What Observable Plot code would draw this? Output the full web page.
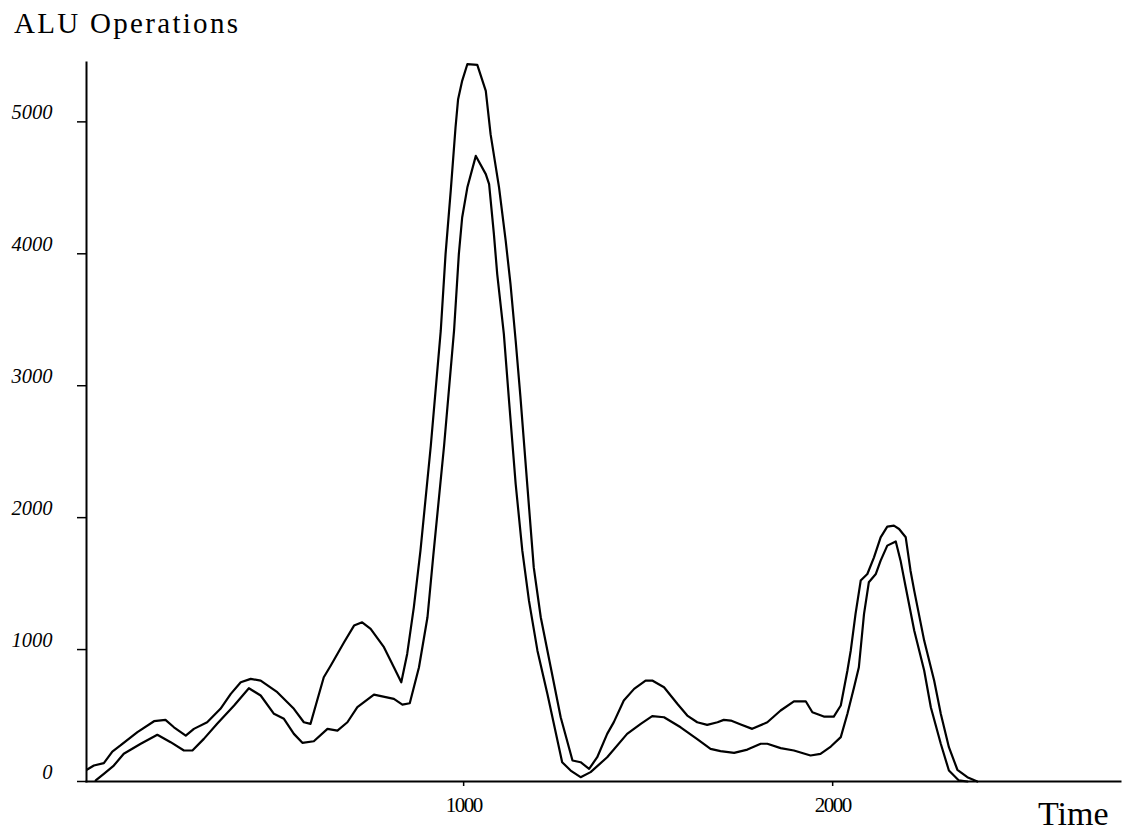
<!DOCTYPE html>
<html>
<head>
<meta charset="utf-8">
<script src="https://cdn.jsdelivr.net/npm/d3@7"></script>
<script src="https://cdn.jsdelivr.net/npm/@observablehq/plot@0.6"></script>
<style>
  html, body { margin: 0; padding: 0; background: #fff; }
  #wrap { width: 1125px; height: 833px; position: relative; overflow: hidden; }
  #title { position: relative; height: 50px; }
  #title span { position: absolute; left: 14px; top: 9px; line-height: 1; font-family: "Liberation Serif", "Times New Roman", serif; font-size: 29px; letter-spacing: 2.3px; color: #000; white-space: nowrap; }
  #chart svg { display: block; overflow: visible; }
  #chart [aria-label="x-axis tick label"] text { letter-spacing: -1.5px; }
</style>
</head>
<body>
<div id="wrap">
  <div id="title"><span>ALU Operations</span></div>
  <div id="chart"></div>
</div>
<script>
// Upper curve (time, ALU operations)
const timeUpper = [-20, -2, 25, 48, 70, 116, 161, 192, 215, 247, 269, 305, 341, 369, 396, 423, 450, 495, 540, 567, 585, 603, 621, 640, 676, 703, 725, 748, 784, 811, 831, 847, 865, 883, 911, 938, 951, 965, 978, 985, 996, 1010, 1037, 1060, 1073, 1096, 1114, 1127, 1141, 1154, 1173, 1190, 1209, 1236, 1263, 1295, 1317, 1340, 1362, 1389, 1407, 1434, 1462, 1493, 1511, 1543, 1579, 1606, 1633, 1660, 1688, 1705, 1724, 1751, 1782, 1823, 1859, 1895, 1927, 1945, 1976, 2003, 2022, 2040, 2049, 2062, 2076, 2094, 2112, 2130, 2148, 2166, 2180, 2198, 2211, 2221, 2248, 2275, 2293, 2315, 2338, 2365, 2392];
const aluUpper  = [91, 121, 139, 227, 273, 374, 457, 467, 411, 348, 399, 449, 551, 664, 752, 778, 765, 677, 551, 449, 437, 614, 790, 879, 1055, 1182, 1207, 1157, 1018, 866, 752, 967, 1320, 1750, 2545, 3417, 3998, 4477, 4957, 5172, 5311, 5437, 5432, 5235, 4907, 4502, 4098, 3770, 3341, 2911, 2229, 1623, 1245, 866, 487, 159, 146, 96, 184, 361, 450, 614, 702, 765, 765, 714, 589, 500, 449, 429, 449, 467, 462, 432, 399, 449, 538, 608, 608, 525, 492, 492, 576, 841, 992, 1270, 1523, 1573, 1699, 1851, 1932, 1939, 1914, 1851, 1598, 1447, 1068, 765, 513, 260, 89, 33, 0];

// Lower curve (time, ALU operations)
const timeLower = [3, 25, 52, 79, 125, 170, 206, 242, 265, 296, 332, 378, 418, 450, 486, 513, 540, 563, 594, 631, 658, 685, 712, 757, 811, 834, 854, 879, 902, 918, 947, 974, 987, 996, 1010, 1033, 1060, 1069, 1082, 1091, 1109, 1123, 1141, 1159, 1177, 1200, 1227, 1267, 1290, 1317, 1344, 1389, 1443, 1480, 1511, 1543, 1588, 1633, 1669, 1696, 1733, 1769, 1805, 1823, 1859, 1895, 1940, 1967, 1995, 2022, 2040, 2058, 2071, 2085, 2098, 2117, 2130, 2148, 2171, 2184, 2198, 2221, 2248, 2266, 2293, 2315, 2342, 2365];
const aluLower  = [8, 58, 121, 210, 286, 354, 298, 235, 235, 323, 437, 576, 707, 652, 513, 475, 361, 293, 305, 399, 386, 449, 563, 659, 626, 583, 593, 866, 1245, 1720, 2545, 3417, 3998, 4275, 4502, 4742, 4604, 4528, 4149, 3846, 3391, 2886, 2255, 1750, 1371, 992, 664, 146, 83, 33, 71, 184, 361, 437, 495, 487, 411, 321, 247, 230, 217, 242, 286, 286, 253, 235, 197, 210, 265, 336, 513, 714, 866, 1270, 1510, 1573, 1674, 1788, 1820, 1674, 1472, 1144, 841, 563, 286, 83, 8, 0];

const yTicks = [0, 1000, 2000, 3000, 4000, 5000];
const xTicks = [1000, 2000];
const xLabel = "Time";

const upper = timeUpper.map((t, i) => ({time: t, ops: aluUpper[i]}));
const lower = timeLower.map((t, i) => ({time: t, ops: aluLower[i]}));

const serif = "Liberation Serif, Times New Roman, serif";

const chart = Plot.plot({
  width: 1125,
  height: 783,
  marginTop: 12,
  marginBottom: 52,
  marginLeft: 86,
  marginRight: 5,
  x: {domain: [-22, 2780]},
  y: {domain: [0, 5450]},
  style: {fontFamily: serif, color: "#000", background: "#fff", overflow: "visible"},
  marks: [
    Plot.frame({anchor: "left", stroke: "#000", strokeWidth: 2}),
    Plot.frame({anchor: "bottom", stroke: "#000", strokeWidth: 2}),
    Plot.axisY(yTicks, {tickSize: 9, text: null, strokeWidth: 1.5, label: null}),
    Plot.axisY(yTicks, {tickSize: 0, tickPadding: 34, dy: -9, fontSize: 20.5, fontStyle: "italic", fontFamily: serif, tickFormat: d => String(d), label: null}),
    Plot.axisX(xTicks, {tickSize: 5, tickPadding: 11, fontSize: 21, fontFamily: serif, tickFormat: d => String(d), label: null, strokeWidth: 1.5}),
    Plot.line(upper, {x: "time", y: "ops", stroke: "#000", strokeWidth: 2.2, strokeLinejoin: "round"}),
    Plot.line(lower, {x: "time", y: "ops", stroke: "#000", strokeWidth: 2.2, strokeLinejoin: "round"}),
    Plot.text([xLabel], {text: d => d, frameAnchor: "bottom-right", textAnchor: "end", lineAnchor: "middle", dx: -12, dy: 33, fontSize: 34, fontFamily: serif, fill: "#000"})
  ]
});
document.getElementById("chart").appendChild(chart);
</script>
</body>
</html>
